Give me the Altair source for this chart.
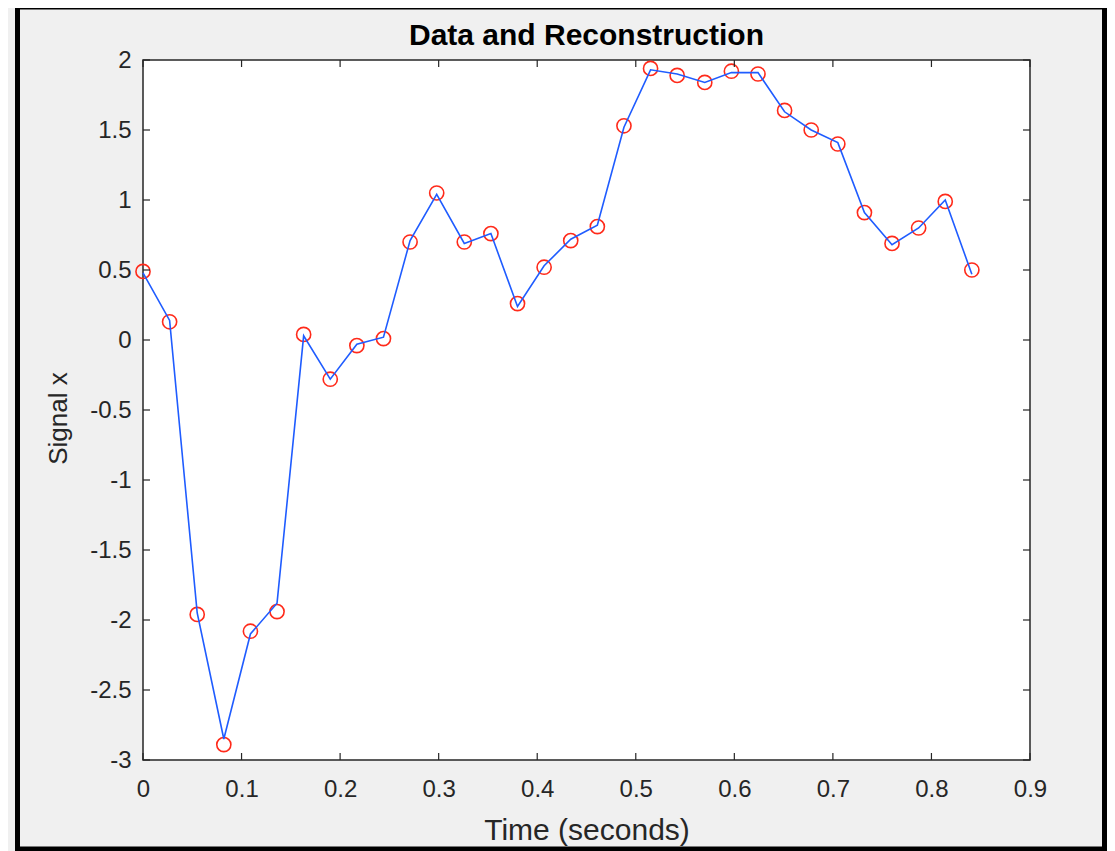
import altair as alt
import pandas as pd

# Sample times (seconds)
t = [0.000, 0.027, 0.055, 0.082, 0.109, 0.136, 0.163, 0.190, 0.217, 0.244,
     0.271, 0.298, 0.326, 0.353, 0.380, 0.407, 0.434, 0.461, 0.488, 0.515,
     0.542, 0.570, 0.597, 0.624, 0.651, 0.678, 0.705, 0.732, 0.760, 0.787,
     0.814, 0.841]
# Data samples (red circles)
x_data = [0.49, 0.13, -1.96, -2.89, -2.08, -1.94, 0.04, -0.28, -0.04, 0.01,
          0.70, 1.05, 0.70, 0.76, 0.26, 0.52, 0.71, 0.81, 1.53, 1.94,
          1.89, 1.84, 1.92, 1.90, 1.64, 1.50, 1.40, 0.91, 0.69, 0.80,
          0.99, 0.50]
# Reconstruction (blue line)
x_recon = [0.48, 0.14, -1.95, -2.85, -2.10, -1.88, 0.03, -0.28, -0.03, 0.02,
           0.71, 1.04, 0.69, 0.76, 0.24, 0.53, 0.72, 0.82, 1.52, 1.93,
           1.90, 1.84, 1.91, 1.91, 1.63, 1.50, 1.41, 0.91, 0.68, 0.80,
           1.00, 0.47]

x_ticks = [0, 0.1, 0.2, 0.3, 0.4, 0.5, 0.6, 0.7, 0.8, 0.9]
y_ticks = [-3, -2.5, -2, -1.5, -1, -0.5, 0, 0.5, 1, 1.5, 2]
title_text = ["Data and Reconstruction"]

W, H = 887, 700
FONT = "Liberation Sans"
AX = "#262626"

df = pd.DataFrame({"t": t, "data": x_data, "recon": x_recon})
xt = pd.DataFrame({"v": x_ticks})
yt = pd.DataFrame({"v": y_ticks})

xscale = alt.Scale(domain=[0, 0.9], nice=False, zero=False)
yscale = alt.Scale(domain=[-3, 2], nice=False, zero=False)

xaxis = alt.Axis(values=x_ticks, labelExpr="'' + datum.value", ticks=False, domain=False,
                 grid=False, labelFont=FONT, labelFontSize=24, labelColor=AX,
                 labelPadding=17, labelFlush=False, labelOverlap=False,
                 title="Time (seconds)", titleFont=FONT,
                 titleFontSize=30, titleFontWeight="normal", titleColor=AX,
                 titleX=W / 2, titleY=70, titleBaseline="middle", titleAlign="center")
yaxis = alt.Axis(values=y_ticks, labelExpr="'' + datum.value", ticks=False, domain=False,
                 grid=False, labelFont=FONT, labelFontSize=24, labelColor=AX,
                 labelPadding=12, labelFlush=False, labelOverlap=False,
                 title="Signal x", titleFont=FONT,
                 titleFontSize=26, titleFontWeight="normal", titleColor=AX,
                 titleAngle=-90, titleX=-85, titleY=H / 2 + 8, titleBaseline="middle",
                 titleAlign="center")

frame = alt.Chart(pd.DataFrame({"a": [0]})).mark_rect(
    fill="#f0f0f0", fillOpacity=0, stroke="black", strokeWidth=5
).encode(x=alt.value(-125.5), x2=alt.value(961.5), y=alt.value(-53), y2=alt.value(789))

title = alt.Chart(pd.DataFrame({"txt": title_text})).mark_text(
    font=FONT, fontSize=30, fontWeight="bold", color="black",
    align="center", baseline="alphabetic"
).encode(text="txt:N", x=alt.value(W / 2), y=alt.value(-15))

circles = alt.Chart(df).mark_point(
    shape="circle", filled=False, size=200, color="#ff2a1a", strokeWidth=1.6, opacity=1
).encode(x=alt.X("t:Q", scale=xscale, axis=xaxis),
         y=alt.Y("data:Q", scale=yscale, axis=yaxis))

line = alt.Chart(df).mark_line(color="#1f5cff", strokeWidth=1.6).encode(
    x=alt.X("t:Q", scale=xscale), y=alt.Y("recon:Q", scale=yscale))

TL = 7
tb = alt.Chart(xt).mark_rule(color=AX, strokeWidth=1.2).encode(
    x=alt.X("v:Q", scale=xscale), y=alt.value(H), y2=alt.value(H - TL))
tt = alt.Chart(xt).mark_rule(color=AX, strokeWidth=1.2).encode(
    x=alt.X("v:Q", scale=xscale), y=alt.value(0), y2=alt.value(TL))
tl = alt.Chart(yt).mark_rule(color=AX, strokeWidth=1.2).encode(
    y=alt.Y("v:Q", scale=yscale), x=alt.value(0), x2=alt.value(TL))
tr = alt.Chart(yt).mark_rule(color=AX, strokeWidth=1.2).encode(
    y=alt.Y("v:Q", scale=yscale), x=alt.value(W), x2=alt.value(W - TL))

chart = alt.layer(frame, title, circles, line, tb, tt, tl, tr).properties(
    width=W, height=H,
    background="#f0f0f0",
    padding={"left": 135, "top": 52, "right": 77, "bottom": 91},
    autosize=alt.AutoSizeParams(type="none"),
).configure_view(fill="white", stroke=AX, strokeWidth=1.5)

chart.save("out.html", embed_options={"renderer": "svg", "actions": False})
